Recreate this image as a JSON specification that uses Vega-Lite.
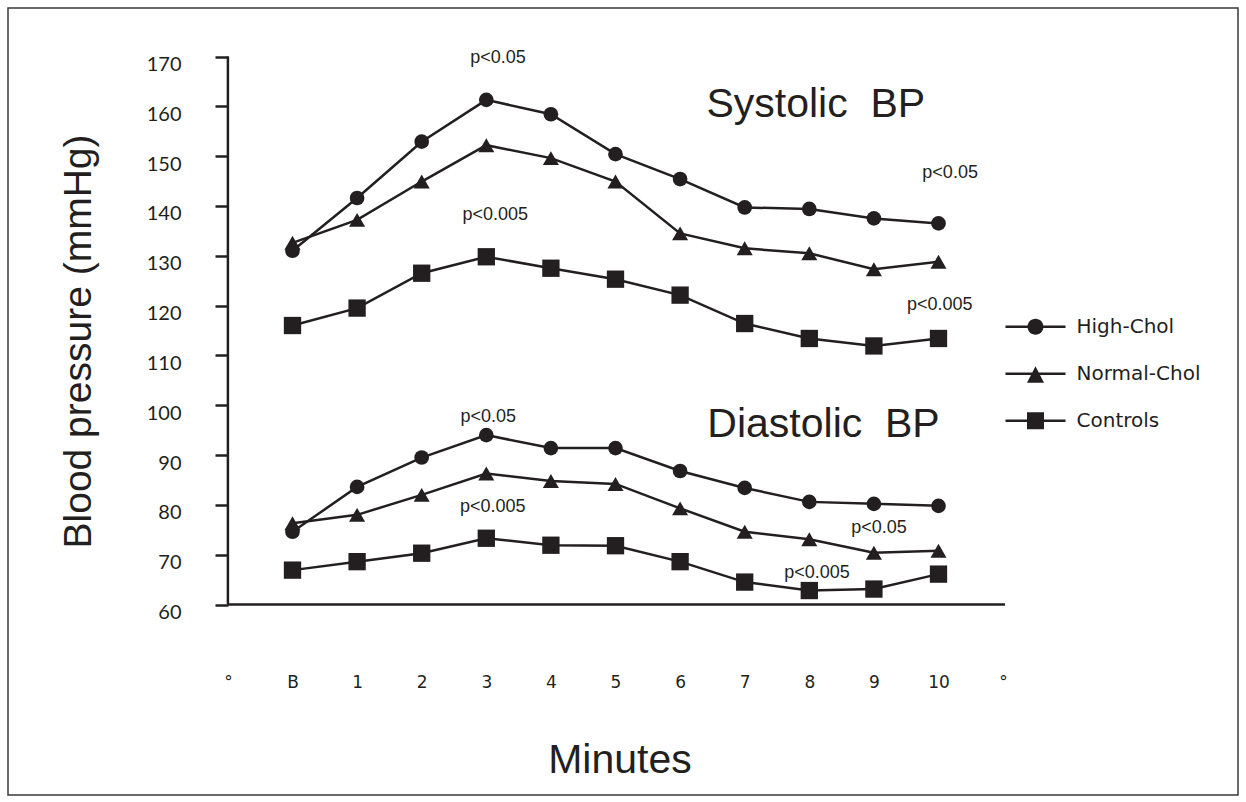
{
  "$schema": "https://vega.github.io/schema/vega-lite/v6.json",
  "width": 1230,
  "height": 787,
  "autosize": {"type": "none"},
  "padding": {"left": 8, "top": 8, "right": 8, "bottom": 7},
  "background": "white",
  "config": {
    "view": {"stroke": "#3a3a3a", "strokeWidth": 1.5},
    "axis": {"grid": false, "domain": false}
  },
  "resolve": {"scale": {"shape": "independent"}},
  "datasets": {
    "bp": [
      {"minute": 0, "group": "High-Chol", "measure": "Systolic", "bp": 131.0},
      {"minute": 1, "group": "High-Chol", "measure": "Systolic", "bp": 141.6},
      {"minute": 2, "group": "High-Chol", "measure": "Systolic", "bp": 152.9},
      {"minute": 3, "group": "High-Chol", "measure": "Systolic", "bp": 161.3},
      {"minute": 4, "group": "High-Chol", "measure": "Systolic", "bp": 158.4},
      {"minute": 5, "group": "High-Chol", "measure": "Systolic", "bp": 150.4},
      {"minute": 6, "group": "High-Chol", "measure": "Systolic", "bp": 145.4},
      {"minute": 7, "group": "High-Chol", "measure": "Systolic", "bp": 139.7},
      {"minute": 8, "group": "High-Chol", "measure": "Systolic", "bp": 139.4},
      {"minute": 9, "group": "High-Chol", "measure": "Systolic", "bp": 137.5},
      {"minute": 10, "group": "High-Chol", "measure": "Systolic", "bp": 136.5},
      {"minute": 0, "group": "Normal-Chol", "measure": "Systolic", "bp": 132.6},
      {"minute": 1, "group": "Normal-Chol", "measure": "Systolic", "bp": 137.2},
      {"minute": 2, "group": "Normal-Chol", "measure": "Systolic", "bp": 144.9},
      {"minute": 3, "group": "Normal-Chol", "measure": "Systolic", "bp": 152.2},
      {"minute": 4, "group": "Normal-Chol", "measure": "Systolic", "bp": 149.6},
      {"minute": 5, "group": "Normal-Chol", "measure": "Systolic", "bp": 144.9},
      {"minute": 6, "group": "Normal-Chol", "measure": "Systolic", "bp": 134.5},
      {"minute": 7, "group": "Normal-Chol", "measure": "Systolic", "bp": 131.5},
      {"minute": 8, "group": "Normal-Chol", "measure": "Systolic", "bp": 130.5},
      {"minute": 9, "group": "Normal-Chol", "measure": "Systolic", "bp": 127.3},
      {"minute": 10, "group": "Normal-Chol", "measure": "Systolic", "bp": 128.8},
      {"minute": 0, "group": "Controls", "measure": "Systolic", "bp": 116.0},
      {"minute": 1, "group": "Controls", "measure": "Systolic", "bp": 119.5},
      {"minute": 2, "group": "Controls", "measure": "Systolic", "bp": 126.5},
      {"minute": 3, "group": "Controls", "measure": "Systolic", "bp": 129.8},
      {"minute": 4, "group": "Controls", "measure": "Systolic", "bp": 127.5},
      {"minute": 5, "group": "Controls", "measure": "Systolic", "bp": 125.3},
      {"minute": 6, "group": "Controls", "measure": "Systolic", "bp": 122.1},
      {"minute": 7, "group": "Controls", "measure": "Systolic", "bp": 116.4},
      {"minute": 8, "group": "Controls", "measure": "Systolic", "bp": 113.4},
      {"minute": 9, "group": "Controls", "measure": "Systolic", "bp": 111.9},
      {"minute": 10, "group": "Controls", "measure": "Systolic", "bp": 113.4},
      {"minute": 0, "group": "High-Chol", "measure": "Diastolic", "bp": 74.6},
      {"minute": 1, "group": "High-Chol", "measure": "Diastolic", "bp": 83.6},
      {"minute": 2, "group": "High-Chol", "measure": "Diastolic", "bp": 89.5},
      {"minute": 3, "group": "High-Chol", "measure": "Diastolic", "bp": 94.0},
      {"minute": 4, "group": "High-Chol", "measure": "Diastolic", "bp": 91.4},
      {"minute": 5, "group": "High-Chol", "measure": "Diastolic", "bp": 91.4},
      {"minute": 6, "group": "High-Chol", "measure": "Diastolic", "bp": 86.8},
      {"minute": 7, "group": "High-Chol", "measure": "Diastolic", "bp": 83.4},
      {"minute": 8, "group": "High-Chol", "measure": "Diastolic", "bp": 80.6},
      {"minute": 9, "group": "High-Chol", "measure": "Diastolic", "bp": 80.2},
      {"minute": 10, "group": "High-Chol", "measure": "Diastolic", "bp": 79.8},
      {"minute": 0, "group": "Normal-Chol", "measure": "Diastolic", "bp": 76.3},
      {"minute": 1, "group": "Normal-Chol", "measure": "Diastolic", "bp": 78.0},
      {"minute": 2, "group": "Normal-Chol", "measure": "Diastolic", "bp": 82.0},
      {"minute": 3, "group": "Normal-Chol", "measure": "Diastolic", "bp": 86.3},
      {"minute": 4, "group": "Normal-Chol", "measure": "Diastolic", "bp": 84.8},
      {"minute": 5, "group": "Normal-Chol", "measure": "Diastolic", "bp": 84.2},
      {"minute": 6, "group": "Normal-Chol", "measure": "Diastolic", "bp": 79.3},
      {"minute": 7, "group": "Normal-Chol", "measure": "Diastolic", "bp": 74.6},
      {"minute": 8, "group": "Normal-Chol", "measure": "Diastolic", "bp": 73.1},
      {"minute": 9, "group": "Normal-Chol", "measure": "Diastolic", "bp": 70.4},
      {"minute": 10, "group": "Normal-Chol", "measure": "Diastolic", "bp": 70.8},
      {"minute": 0, "group": "Controls", "measure": "Diastolic", "bp": 66.9},
      {"minute": 1, "group": "Controls", "measure": "Diastolic", "bp": 68.6},
      {"minute": 2, "group": "Controls", "measure": "Diastolic", "bp": 70.3},
      {"minute": 3, "group": "Controls", "measure": "Diastolic", "bp": 73.3},
      {"minute": 4, "group": "Controls", "measure": "Diastolic", "bp": 71.9},
      {"minute": 5, "group": "Controls", "measure": "Diastolic", "bp": 71.8},
      {"minute": 6, "group": "Controls", "measure": "Diastolic", "bp": 68.6},
      {"minute": 7, "group": "Controls", "measure": "Diastolic", "bp": 64.5},
      {"minute": 8, "group": "Controls", "measure": "Diastolic", "bp": 62.8},
      {"minute": 9, "group": "Controls", "measure": "Diastolic", "bp": 63.1},
      {"minute": 10, "group": "Controls", "measure": "Diastolic", "bp": 66.1}
    ],
    "notes": [
      {"note": "p<0.05", "minute": 3.18, "bp": 169.7},
      {"note": "p<0.005", "minute": 3.14, "bp": 138.2},
      {"note": "p<0.05", "minute": 10.18, "bp": 146.6},
      {"note": "p<0.005", "minute": 10.02, "bp": 120.1},
      {"note": "p<0.05", "minute": 3.03, "bp": 97.6},
      {"note": "p<0.005", "minute": 3.10, "bp": 79.6},
      {"note": "p<0.05", "minute": 9.08, "bp": 75.4},
      {"note": "p<0.005", "minute": 8.12, "bp": 66.4}
    ],
    "heads": [
      {"head": "Systolic\u00a0\u00a0BP", "minute": 8.10, "bp": 157.9},
      {"head": "Diastolic\u00a0\u00a0BP", "minute": 8.22, "bp": 93.56}
    ],
    "frame": [{}]
  },
  "layer": [
    {
      "data": {"name": "frame"},
      "mark": {"type": "rule", "color": "#231f20", "strokeWidth": 2.5},
      "encoding": {
        "x": {"datum": -1, "type": "quantitative"},
        "y": {"datum": 60, "type": "quantitative"},
        "y2": {"datum": 170}
      }
    },
    {
      "data": {"name": "frame"},
      "mark": {"type": "rule", "color": "#231f20", "strokeWidth": 2.5},
      "encoding": {
        "x": {"datum": -1, "type": "quantitative"},
        "x2": {"datum": 11.03},
        "y": {"datum": 60, "type": "quantitative"}
      }
    },
    {
      "data": {"name": "bp"},
      "mark": {"type": "line", "color": "#231f20", "strokeWidth": 2.5},
      "encoding": {
        "x": {
          "field": "minute",
          "type": "quantitative",
          "scale": {"domain": [-4.404, 14.6362], "nice": false, "zero": false},
          "axis": {
            "orient": "bottom",
            "offset": -190.5,
            "values": [-1, 0, 1, 2, 3, 4, 5, 6, 7, 8, 9, 10, 11],
            "labelExpr": "datum.value == -1 || datum.value == 11 ? '°' : (datum.value == 0 ? 'B' : '' + datum.value)",
            "ticks": false,
            "tickSize": 0,
            "labelFlush": false,
            "labelOverlap": false,
            "labelBound": false,
            "labelFont": "DejaVu Sans",
            "labelFontSize": 17,
            "labelColor": "#231f20",
            "labelBaseline": "alphabetic",
            "labelPadding": 83,
            "title": "Minutes",
            "titleFont": "Liberation Sans",
            "titleFontSize": 41,
            "titleFontWeight": "normal",
            "titleColor": "#231f20",
            "titleBaseline": "alphabetic",
            "titleAlign": "center",
            "titleX": 611.5,
            "titleY": 167.5
          }
        },
        "y": {
          "field": "bp",
          "type": "quantitative",
          "scale": {"domain": [21.7613, 179.7355], "nice": false, "zero": false},
          "axis": {
            "orient": "left",
            "offset": -220,
            "values": [60, 70, 80, 90, 100, 110, 120, 130, 140, 150, 160, 170],
            "tickSize": 13,
            "tickWidth": 2.5,
            "tickColor": "#231f20",
            "labelFont": "Lato",
            "labelFontSize": 20,
            "labelColor": "#231f20",
            "labelAlign": "right",
            "labelBaseline": "alphabetic",
            "labelOffset": 14,
            "labelPadding": 34,
            "labelFlush": false,
            "labelOverlap": false,
            "labelBound": false,
            "title": "Blood pressure (mmHg)",
            "titleFont": "Liberation Sans",
            "titleFontSize": 39,
            "titleFontWeight": "normal",
            "titleColor": "#231f20",
            "titleAngle": 270,
            "titleBaseline": "alphabetic",
            "titleAlign": "center",
            "titleX": -138,
            "titleY": 333
          }
        },
        "detail": [{"field": "group"}, {"field": "measure"}]
      }
    },
    {
      "data": {"name": "bp"},
      "mark": {"type": "point", "filled": true, "opacity": 1, "color": "#231f20"},
      "encoding": {
        "x": {"field": "minute", "type": "quantitative"},
        "y": {"field": "bp", "type": "quantitative"},
        "shape": {
          "field": "group",
          "type": "nominal",
          "scale": {"domain": ["High-Chol", "Normal-Chol", "Controls"], "range": ["circle", "triangle-up", "square"]},
          "legend": null
        },
        "size": {
          "field": "group",
          "type": "nominal",
          "scale": {"domain": ["High-Chol", "Normal-Chol", "Controls"], "range": [215, 300, 265]},
          "legend": null
        }
      }
    },
    {
      "data": {"name": "bp"},
      "transform": [{"filter": "false"}],
      "mark": {"type": "point", "filled": true, "opacity": 1, "color": "#231f20"},
      "encoding": {
        "x": {"field": "minute", "type": "quantitative"},
        "y": {"field": "bp", "type": "quantitative"},
        "shape": {
          "field": "group",
          "type": "nominal",
          "scale": {
            "domain": ["High-Chol", "Normal-Chol", "Controls"],
            "range": [
              "M-3,-0.12H3V0.12H-3Z M0.8,0A0.8,0.8 0 1,1 -0.8,0A0.8,0.8 0 1,1 0.8,0Z",
              "M-3,-0.12H3V0.12H-3Z M0,-0.75L0.85,0.9L-0.85,0.9Z",
              "M-3,-0.12H3V0.12H-3Z M-0.85,-0.85H0.85V0.85H-0.85Z"
            ]
          },
          "legend": {
            "orient": "none",
            "legendX": 1017.5,
            "legendY": 308.7,
            "title": null,
            "padding": 0,
            "symbolSize": 400,
            "symbolStrokeWidth": 0,
            "symbolFillColor": "#231f20",
            "symbolOpacity": 1,
            "labelFont": "DejaVu Sans",
            "labelFontSize": 20,
            "labelColor": "#231f20",
            "labelOffset": 31,
            "rowPadding": 27
          }
        }
      }
    },
    {
      "data": {"name": "notes"},
      "mark": {"type": "text", "font": "Liberation Sans", "fontSize": 18, "color": "#231f20", "align": "center", "baseline": "middle"},
      "encoding": {
        "x": {"field": "minute", "type": "quantitative"},
        "y": {"field": "bp", "type": "quantitative"},
        "text": {"field": "note"}
      }
    },
    {
      "data": {"name": "heads"},
      "mark": {"type": "text", "font": "Liberation Sans", "fontSize": 41, "color": "#231f20", "align": "center", "baseline": "alphabetic"},
      "encoding": {
        "x": {"field": "minute", "type": "quantitative"},
        "y": {"field": "bp", "type": "quantitative"},
        "text": {"field": "head"}
      }
    }
  ]
}
